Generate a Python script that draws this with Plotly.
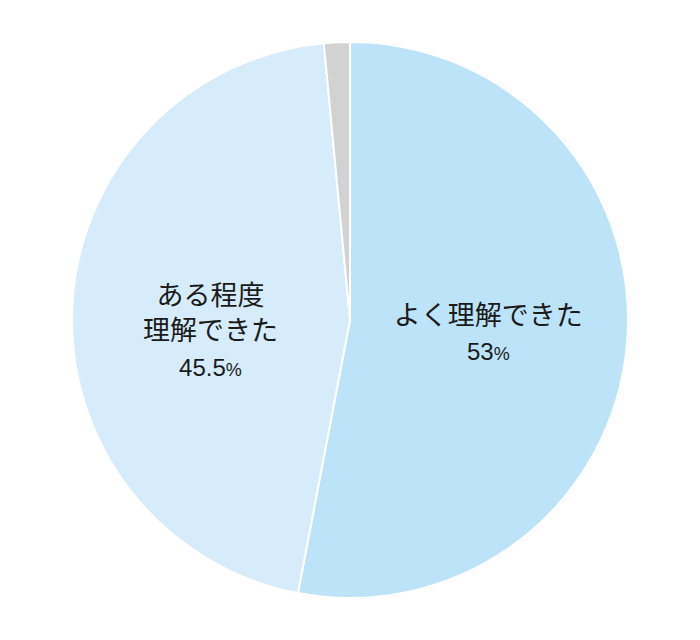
import plotly.graph_objects as go

# answer categories and share (%)
labels = ["よく理解できた", "ある程度<br>理解できた", "その他"]
values = [53, 45.5, 1.5]
colors = ["#bde3f8", "#d6ecfa", "#d2d2d2"]
show_label = [True, True, False]
pad_top = [False, True, False]   # empty first line pushes the label a bit lower

texts = []
for lab, v, s, p in zip(labels, values, show_label, pad_top):
    if not s:
        texts.append("")
        continue
    t = f"{lab}<br><span style='font-size:24px'>{v:g}</span><span style='font-size:18px'>%</span>"
    if p:
        t = "&nbsp;<br>" + t
    texts.append(t)

fig = go.Figure(
    go.Pie(
        labels=labels,
        values=values,
        text=texts,
        textinfo="text",
        textposition="inside",
        insidetextorientation="horizontal",
        sort=False,
        direction="clockwise",
        rotation=0,
        marker=dict(colors=colors, line=dict(color="white", width=2)),
        textfont=dict(family="Liberation Sans, Noto Sans CJK JP", size=27, color="#1a1a1a"),
        hoverinfo="label+percent",
        # page body adds 8px, so the domain is nudged up-left
        domain=dict(x=[0.0914, 0.8857], y=[0.0781, 0.9469]),
    )
)

fig.update_layout(
    width=700,
    height=640,
    margin=dict(l=0, r=0, t=0, b=0),
    showlegend=False,
    paper_bgcolor="white",
)

fig.write_html("out.html")
